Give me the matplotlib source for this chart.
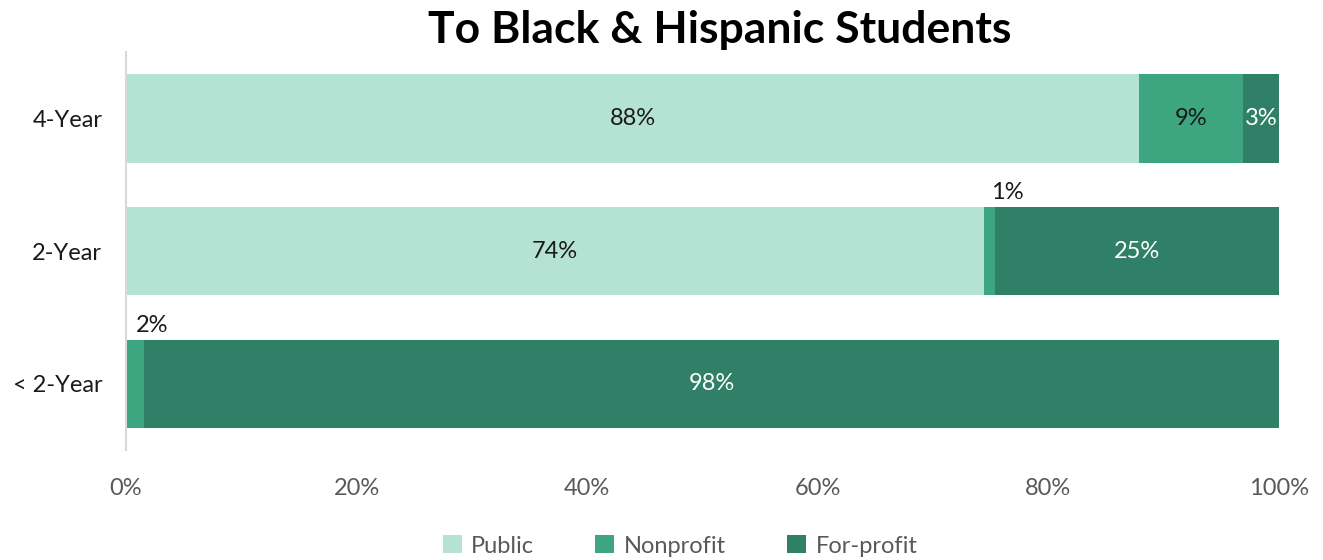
import numpy as np
import matplotlib.pyplot as plt
from matplotlib.ticker import FuncFormatter

# data
categories = ['4-Year', '2-Year', '< 2-Year']
public = [87.9, 74.4, 0.0]
nonprofit = [9.0, 1.0, 1.6]
forprofit = [3.1, 24.6, 98.4]
series_names = ['Public', 'Nonprofit', 'For-profit']

colors = ['#B4E3D4', '#3DA580', '#2F8066']
text_colors = ['#1a1a1a', '#1a1a1a', 'white']

plt.rcParams['font.family'] = ['Lato', 'DejaVu Sans']

fig = plt.figure(figsize=(13.23, 5.6), dpi=100)
ax = fig.add_axes([0.0952, 0.196, 0.8715, 0.711])

y = np.arange(len(categories))
left = np.zeros(len(categories))
for name, vals, col, tcol in zip(series_names, [public, nonprofit, forprofit], colors, text_colors):
    vals = np.array(vals)
    ax.barh(y, vals, left=left, height=0.665, color=col, label=name, edgecolor='none')
    for i, v in enumerate(vals):
        if v <= 0:
            continue
        if v < 2:
            # tiny segment: label above the bar
            ax.text(left[i] + v / 2 + 1.5, y[i] - 0.36, f'{v:.0f}%', ha='center', va='bottom',
                    fontsize=17, color='#1a1a1a')
        else:
            ax.text(left[i] + v / 2, y[i], f'{v:.0f}%', ha='center', va='center',
                    fontsize=17, color=tcol)
    left += vals

ax.set_xlim(0, 100)
ax.set_ylim(2.5, -0.5)
ax.set_yticks(y)
ax.set_yticklabels(categories)
ax.set_xticks(np.arange(0, 101, 20))
ax.xaxis.set_major_formatter(FuncFormatter(lambda v, p: f'{v:.0f}%'))
ax.tick_params(axis='both', length=0, labelsize=17, colors='#595959')
ax.tick_params(axis='x', pad=20)
ax.tick_params(axis='y', pad=17)
for lab in ax.get_yticklabels():
    lab.set_color('#1a1a1a')
for s in ['top', 'right', 'bottom']:
    ax.spines[s].set_visible(False)
ax.spines['left'].set_color('#D9D9D9')
ax.spines['left'].set_linewidth(1.5)

fig.text(720 / 1323, 1 - 30 / 560, 'To Black & Hispanic Students', ha='center', va='center',
         fontsize=32, fontweight='bold', color='black')

leg = fig.legend(loc='center', bbox_to_anchor=(680 / 1323, 1 - 546 / 560), ncol=3, frameon=False,
                 fontsize=17, handlelength=0.8, handleheight=0.8, handletextpad=0.4, columnspacing=2.6)
for t in leg.get_texts():
    t.set_color('#595959')

fig.savefig('out.png', dpi=100)
